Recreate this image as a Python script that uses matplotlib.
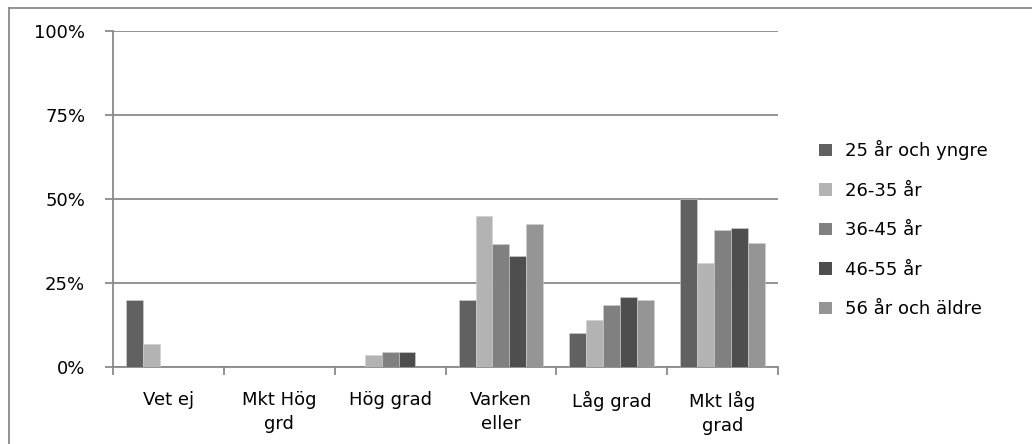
import numpy as np
import matplotlib
matplotlib.use("Agg")
import matplotlib.pyplot as plt
from matplotlib.lines import Line2D
from matplotlib.ticker import FixedLocator, PercentFormatter

# Answer categories (x axis) and age groups (series)
categories = ["Vet ej", "Mkt Hög\ngrd", "Hög grad", "Varken\neller", "Låg grad", "Mkt låg\ngrad"]
groups = ["25 år och yngre", "26-35 år", "36-45 år", "46-55 år", "56 år och äldre"]

# Share of respondents (%) per age group and category
age_25_under = [20.0, 0.0, 0.0, 20.0, 10.0, 50.0]
age_26_35 = [6.7, 0.0, 3.6, 44.8, 14.1, 31.1]
age_36_45 = [0.0, 0.0, 4.5, 36.5, 18.4, 40.9]
age_46_55 = [0.0, 0.0, 4.5, 33.0, 20.9, 41.3]
age_56_over = [0.0, 0.0, 0.0, 42.7, 19.9, 36.9]
series = [age_25_under, age_26_35, age_36_45, age_46_55, age_56_over]

y_ticks = [0, 25, 50, 75, 100]

colors = ["#616161", "#b3b3b3", "#808080", "#4e4e4e", "#959595"]
axis_grey = "#8a8a8a"

plt.rcParams["font.family"] = ["DejaVu Sans"]
fs = 13

fig = plt.figure(figsize=(10.32, 4.44), dpi=100)
ax = fig.add_axes([113 / 1032, 77 / 444, 665 / 1032, 336 / 444])

x = np.arange(len(categories))
group_w = 0.764
bar_w = group_w / len(groups)
for i, (vals, name, col) in enumerate(zip(series, groups, colors)):
    ax.bar(x + (i - 2) * bar_w, vals, width=bar_w, color=col, label=name,
           edgecolor="#d0d0d0", linewidth=0.4, zorder=3)

ax.set_xlim(-0.5, len(categories) - 0.5)
ax.set_ylim(0, 100)
ax.yaxis.set_major_locator(FixedLocator(y_ticks))
ax.yaxis.set_major_formatter(PercentFormatter(decimals=0))
ax.grid(axis="y", color=axis_grey, linewidth=1.3, zorder=0)

ax.set_xticks(x)
ax.set_xticklabels(categories, fontsize=fs, linespacing=1.45)
ax.set_xticks(np.arange(len(categories) + 1) - 0.5, minor=True)
ax.tick_params(axis="x", which="major", length=0, pad=17)
ax.tick_params(axis="x", which="minor", length=6, width=1.3, color=axis_grey)
ax.tick_params(axis="y", length=6, width=1.3, color=axis_grey, pad=14, labelsize=fs)

for side in ("top", "right"):
    ax.spines[side].set_visible(False)
for side in ("left", "bottom"):
    ax.spines[side].set_color(axis_grey)
    ax.spines[side].set_linewidth(1.3)

leg = fig.legend(loc="upper left", bbox_to_anchor=(812 / 1032, 1 - 133 / 444),
                 frameon=False, fontsize=fs, handlelength=0.7, handleheight=0.7,
                 handletextpad=0.75, labelspacing=1.19, borderaxespad=0)
for h in leg.legend_handles:
    h.set_edgecolor("none")

# Outer chart border (top and left edges)
fig.add_artist(Line2D([9 / 1032, 1.0], [1 - 8 / 444, 1 - 8 / 444],
                      transform=fig.transFigure, color=axis_grey, linewidth=1.3))
fig.add_artist(Line2D([9 / 1032, 9 / 1032], [0.0, 1 - 8 / 444],
                      transform=fig.transFigure, color=axis_grey, linewidth=1.3))

fig.savefig("out.png", dpi=100, facecolor="white")
